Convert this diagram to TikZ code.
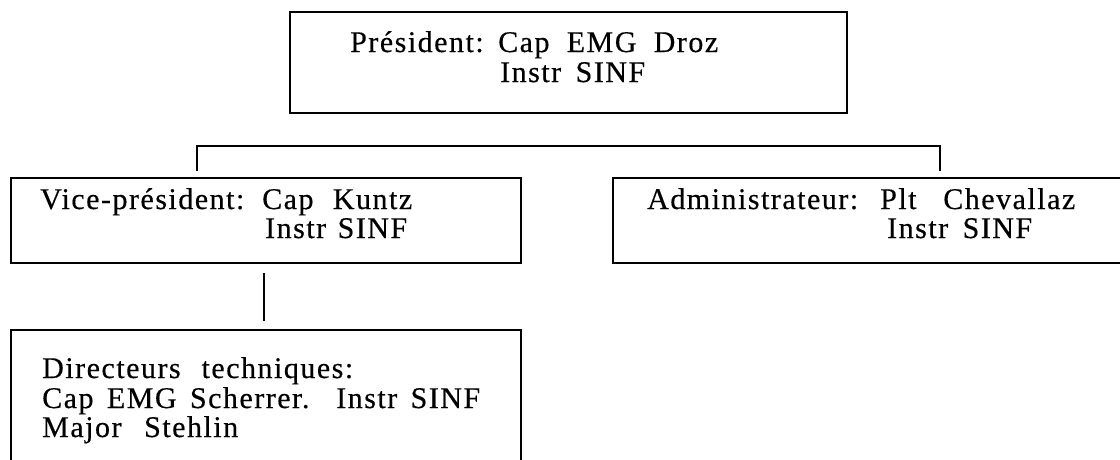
\documentclass[tikz,border=0pt]{standalone}
\usepackage{fontspec}
\setmainfont{Liberation Serif}
\newfontfamily\orgfont{Liberation Serif}[LetterSpace=5,FakeBold=0.4]
\newcommand{\fitline}[2]{\makebox[#1pt][s]{#2}}
\begin{document}
\begin{tikzpicture}[x=1pt,y=-1pt,
  orgbox/.style={draw,line width=1.6pt,rectangle,inner sep=0pt},
  txt/.style={anchor=base west,inner sep=0pt,font=\orgfont\fontsize{30}{36}\selectfont},
  link/.style={line width=1.6pt}]
\useasboundingbox (0,0) rectangle (1120,459);
\clip (0,0) rectangle (1120,459);
% boxes
\node[orgbox,minimum width=557pt,minimum height=101pt] (pres) at (568.5,62.5) {};
\node[orgbox,minimum width=510pt,minimum height=85pt] (vp) at (266,220.5) {};
\node[orgbox,minimum width=517pt,minimum height=85pt] (adm) at (871.5,220.5) {};
\node[orgbox,minimum width=510pt,minimum height=150pt] (dt) at (266,405) {};
% texts
\node[txt] (t1a) at (350,52) {Président:};
\node[txt] (t1b) at (498,52) {\fitline{220}{Cap EMG Droz}};
\node[txt] (t1c) at (500,82) {\fitline{145}{Instr SINF}};
\node[txt] (t2a) at (40,209) {Vice-président:};
\node[txt] (t2b) at (262,209) {\fitline{150}{Cap Kuntz}};
\node[txt] (t2c) at (265,238) {\fitline{142}{Instr SINF}};
\node[txt] (t3a) at (647,209) {Administrateur:};
\node[txt] (t3b) at (880,209) {\fitline{195}{Plt Chevallaz}};
\node[txt] (t3c) at (887,238) {\fitline{145}{Instr SINF}};
\node[txt] (t4a) at (42,378) {\fitline{311}{Directeurs techniques:}};
\node[txt] (t4b) at (42,408) {\fitline{438}{Cap EMG Scherrer.\ \ Instr SINF}};
\node[txt] (t4c) at (42,437) {\fitline{196}{Major\ \ Stehlin}};
% connectors
\coordinate (bl) at (197,171);
\coordinate (br) at (940,171);
\coordinate (bar) at (0,146);
\draw[link] (bl) -- (bl |- bar) -- (br |- bar) -- (br);
\coordinate (vtop) at (264,273);
\coordinate (vbot) at (264,321);
\draw[link] (vtop) -- (vbot);
\end{tikzpicture}
\end{document}
